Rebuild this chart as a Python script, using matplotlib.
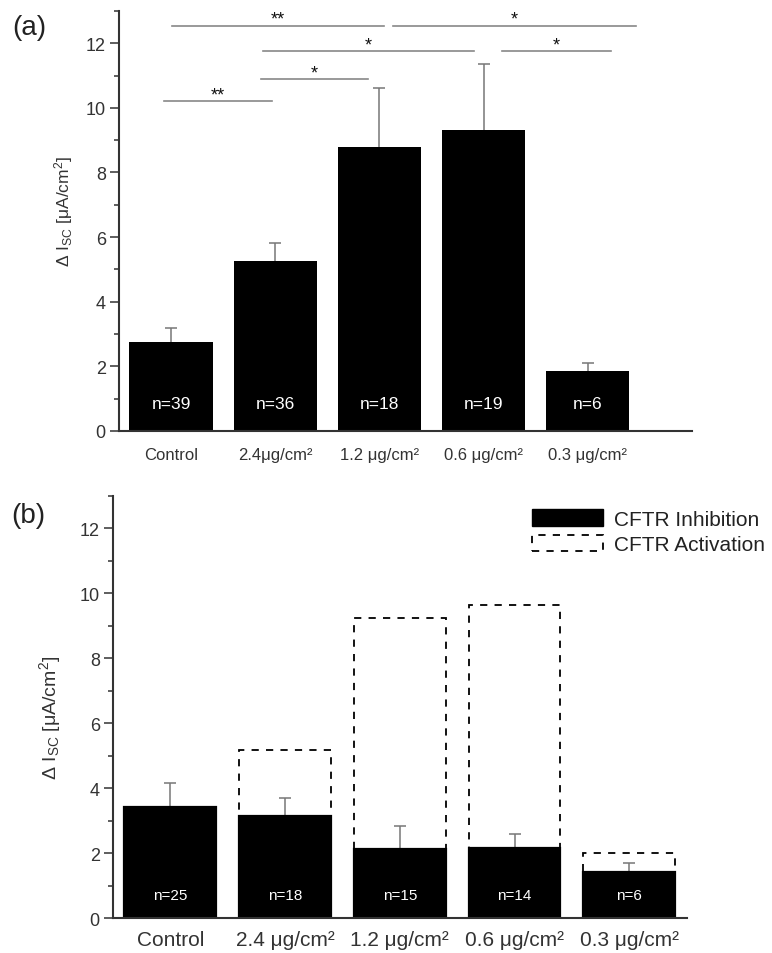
import matplotlib
matplotlib.use('Agg')
import matplotlib.pyplot as plt
import numpy as np
from matplotlib.ticker import MultipleLocator
from matplotlib.patches import Patch

plt.rcParams['font.family'] = ['Liberation Sans', 'DejaVu Sans']
plt.rcParams['mathtext.fontset'] = 'custom'
plt.rcParams['mathtext.rm'] = 'Liberation Sans'
plt.rcParams['mathtext.it'] = 'Liberation Sans:italic'
plt.rcParams['mathtext.bf'] = 'Liberation Sans:bold'

# panel (a): delta Isc per dose
labels_a = ['Control', '2.4μg/cm²', '1.2 μg/cm²', '0.6 μg/cm²', '0.3 μg/cm²']
mean_a = [2.74, 5.25, 8.78, 9.33, 1.87]
sem_a = [0.45, 0.58, 1.82, 2.03, 0.23]
n_a = [39, 36, 18, 19, 6]

# significance bars of panel (a): start, end (group units), height, stars
sig_start = [-0.07, 0.86, 0.88, 3.18, 0.01, 2.13]
sig_end = [0.97, 1.89, 2.91, 4.22, 2.04, 4.46]
sig_y = [10.2, 10.88, 11.75, 11.75, 12.54, 12.54]
sig_txt = ['**', '*', '*', '*', '**', '*']

# panel (b): CFTR inhibition / activation
labels_b = ['Control', '2.4 μg/cm²', '1.2 μg/cm²', '0.6 μg/cm²', '0.3 μg/cm²']
inhib_b = [3.41, 3.16, 2.14, 2.16, 1.42]
inhib_sem_b = [0.76, 0.55, 0.71, 0.42, 0.28]
activ_b = [0, 5.19, 9.23, 9.64, 2.0]
n_b = [25, 18, 15, 14, 6]

ylab = r'Δ I$_{\mathrm{SC}}$ [μA/cm$^{2}$]'
grey = '#333333'


def style(ax, xlabsize, xpad):
    for s in ['top', 'right']:
        ax.spines[s].set_visible(False)
    for s in ['left', 'bottom']:
        ax.spines[s].set_linewidth(1.5)
        ax.spines[s].set_color(grey)
    ax.set_ylim(0, 13)
    ax.yaxis.set_major_locator(MultipleLocator(2))
    ax.yaxis.set_minor_locator(MultipleLocator(1))
    ax.tick_params(axis='y', which='major', direction='out', length=6.5, width=1.1,
                   color=grey, labelsize=13, labelcolor=grey, pad=3)
    ax.tick_params(axis='y', which='minor', direction='out', length=3.5, width=1.1, color=grey)
    ax.tick_params(axis='x', length=0, labelsize=xlabsize, labelcolor=grey, pad=xpad)
    for t in ax.get_xticklabels():
        t.set_verticalalignment('baseline')


fig = plt.figure(figsize=(7.72, 9.54), dpi=100)

# ---- (a)
ax = fig.add_axes([0.1541, 0.5472, 0.7422, 0.4403])
x = np.arange(len(labels_a))
# error bars sit behind the bars so only the upper half shows
ax.errorbar(x, mean_a, yerr=sem_a, fmt='none', ecolor='#777777',
            elinewidth=1.1, capsize=4, capthick=1.1, zorder=1)
ax.bar(x, mean_a, width=0.8, color='black', zorder=2)
for xi, n in zip(x, n_a):
    ax.text(xi, 0.84, f'n={n}', color='white', ha='center', va='center', fontsize=12.5, zorder=4)
for x0, x1, y, s in zip(sig_start, sig_end, sig_y, sig_txt):
    ax.plot([x0, x1], [y, y], color='#888888', lw=1.2, clip_on=False)
    ax.annotate(s, ((x0 + x1) / 2, y), xytext=(0, 1.5), textcoords='offset points',
                ha='center', va='baseline', fontsize=13, color='#111111', annotation_clip=False)
ax.set_xlim(-0.5, 5.0)
ax.set_xticks(x)
ax.set_xticklabels(labels_a)
style(ax, 12, 20)
ax.set_ylabel(ylab, fontsize=12.5, color=grey)
ax.yaxis.set_label_coords(-0.077, 0.526)
fig.text(0.016, 0.9703, '(a)', fontsize=20, va='center', color='#222222')

# ---- (b)
ax = fig.add_axes([0.1464, 0.0364, 0.7431, 0.4430])
x = np.arange(len(labels_b))
ax.bar(x, activ_b, width=0.8, fill=False, edgecolor='black', linestyle=(0, (4, 4)),
       linewidth=1.3, zorder=1)
ax.errorbar(x, inhib_b, yerr=inhib_sem_b, fmt='none', ecolor='#777777',
            elinewidth=1.1, capsize=4, capthick=1.1, zorder=1.5)
ax.bar(x, inhib_b, width=0.8, color='black', edgecolor='black', linewidth=1.6, zorder=2)
for xi, n in zip(x, n_b):
    ax.text(xi, 0.72, f'n={n}', color='white', ha='center', va='center', fontsize=11, zorder=4)
ax.set_xlim(-0.5, 4.5)
ax.set_xticks(x)
ax.set_xticklabels(labels_b)
style(ax, 15, 19)
ax.set_ylabel(ylab, fontsize=14, color=grey)
ax.yaxis.set_label_coords(-0.087, 0.4775)
fig.text(0.014, 0.4593, '(b)', fontsize=20, va='center', color='#222222')

handles = [Patch(facecolor='black', edgecolor='black'),
           Patch(facecolor='none', edgecolor='black', linestyle=(0, (4, 4)), linewidth=1.3)]
leg = ax.legend(handles, ['CFTR Inhibition', 'CFTR Activation'], loc='upper left',
                bbox_to_anchor=(0.6887, 0.4654), bbox_transform=fig.transFigure,
                frameon=False, fontsize=15, handlelength=3.4, handleheight=0.85,
                handletextpad=0.55, labelspacing=0.3, borderpad=0, borderaxespad=0)
for t in leg.get_texts():
    t.set_color('#222222')

fig.savefig('out.png', dpi=100)
